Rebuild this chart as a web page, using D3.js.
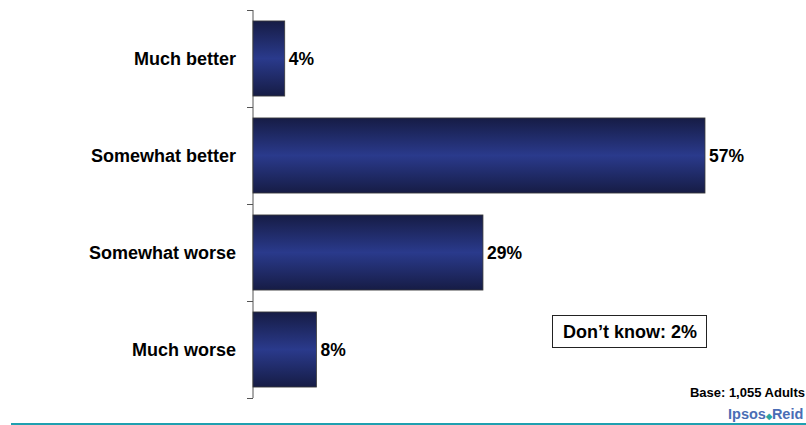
<!DOCTYPE html>
<html>
<head>
<meta charset="utf-8">
<script src="https://cdn.jsdelivr.net/npm/d3@7"></script>
<style>
  body { margin: 0; background: #fff; }
  svg { display: block; font-family: Arial, "Liberation Sans", sans-serif; }
</style>
</head>
<body>
<div id="chart"></div>
<script>
var categories = ["Much better", "Somewhat better", "Somewhat worse", "Much worse"];
var values = [4, 57, 29, 8];
var valueLabels = ["4%", "57%", "29%", "8%"];
var dontKnow = "Don\u2019t know: 2%";
var baseNote = "Base: 1,055 Adults";

function init() {
    var w = 806;
    var h = 425;
    var left = 253;

    var svg = d3.select("#chart")
        .append("svg")
        .attr("width", w)
        .attr("height", h);

    // bar gradient (dark edges, lighter middle)
    var grad = svg.append("defs").append("linearGradient")
        .attr("id", "barGrad")
        .attr("x1", 0).attr("y1", 0).attr("x2", 0).attr("y2", 1);
    grad.append("stop").attr("offset", "0%").attr("stop-color", "#161c45");
    grad.append("stop").attr("offset", "50%").attr("stop-color", "#2a3a8c");
    grad.append("stop").attr("offset", "100%").attr("stop-color", "#161c45");

    var xScale = d3.scaleLinear()
        .domain([0, 57])
        .range([left, 705]);

    var yScale = d3.scaleBand()
        .domain(categories)
        .range([10, 398])
        .paddingInner(0.226)
        .paddingOuter(0.113);

    // axis line with ticks between categories
    var step = yScale.step();
    var tickYs = d3.range(categories.length + 1).map(function(i) { return 10 + i * step; });

    svg.append("line")
        .attr("x1", left).attr("x2", left)
        .attr("y1", 10).attr("y2", 398)
        .attr("stroke", "#555").attr("stroke-width", 1);

    svg.selectAll(".tick")
        .data(tickYs)
        .enter()
        .append("line")
        .attr("x1", left - 6).attr("x2", left)
        .attr("y1", function(d) { return Math.round(d) + 0.5; })
        .attr("y2", function(d) { return Math.round(d) + 0.5; })
        .attr("stroke", "#555");

    // bars
    svg.selectAll(".bar")
        .data(values)
        .enter()
        .append("rect")
        .attr("x", xScale(0))
        .attr("y", function(d, i) { return yScale(categories[i]); })
        .attr("width", function(d) { return xScale(d) - xScale(0); })
        .attr("height", yScale.bandwidth())
        .attr("fill", "url(#barGrad)")
        .attr("stroke", "#3a3a3a")
        .attr("stroke-width", 0.8);

    // value labels
    svg.selectAll(".val")
        .data(values)
        .enter()
        .append("text")
        .attr("x", function(d) { return xScale(d) + 4; })
        .attr("y", function(d, i) { return yScale(categories[i]) + yScale.bandwidth() / 2 + 6; })
        .attr("font-size", 17.5)
        .attr("font-weight", "bold")
        .text(function(d, i) { return valueLabels[i]; });

    // category labels
    svg.selectAll(".cat")
        .data(categories)
        .enter()
        .append("text")
        .attr("x", 236)
        .attr("y", function(d) { return yScale(d) + yScale.bandwidth() / 2 + 6; })
        .attr("text-anchor", "end")
        .attr("font-size", 18)
        .attr("font-weight", "bold")
        .text(function(d) { return d; });

    // don't know box
    svg.append("rect")
        .attr("x", 552.5).attr("y", 315.5)
        .attr("width", 154).attr("height", 32)
        .attr("fill", "#fff")
        .attr("stroke", "#222");
    svg.append("text")
        .attr("x", 630).attr("y", 338)
        .attr("text-anchor", "middle")
        .attr("font-size", 18)
        .attr("font-weight", "bold")
        .text(dontKnow);

    // base note
    svg.append("text")
        .attr("x", 805).attr("y", 397)
        .attr("text-anchor", "end")
        .attr("font-size", 13)
        .attr("font-weight", "bold")
        .text(baseNote);

    // logo
    var logo = svg.append("text")
        .attr("x", 728).attr("y", 419)
        .attr("font-size", 14.5)
        .attr("font-weight", "bold")
        .attr("fill", "#4a6db5");
    logo.append("tspan").text("Ipsos");
    logo.append("tspan").attr("fill", "#2aa6a0").attr("font-size", 8).text("\u25C6");
    logo.append("tspan").text("Reid");

    // bottom rule
    svg.append("line")
        .attr("x1", 11).attr("x2", 806)
        .attr("y1", 424).attr("y2", 424)
        .attr("stroke", "#1fa0b0")
        .attr("stroke-width", 2);
}

window.onload = init;
</script>
</body>
</html>
